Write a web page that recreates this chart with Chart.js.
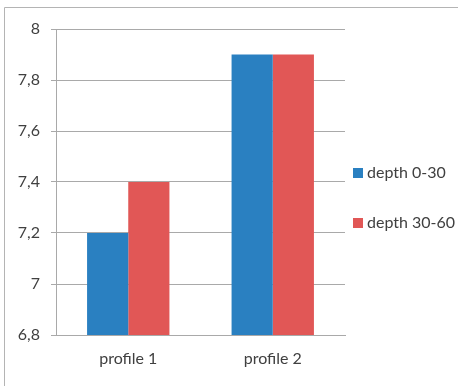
<!DOCTYPE html>
<html>
<head>
<meta charset="utf-8">
<script src="https://cdn.jsdelivr.net/npm/chart.js@4"></script>
<style>
  html, body { margin: 0; padding: 0; background: #ffffff; }
  #wrap { position: relative; width: 458px; height: 386px; }
</style>
</head>
<body>
<div id="wrap"><canvas id="chart" width="458" height="386"></canvas></div>
<script>
// Soil pH by profile and sampling depth
const categories = ['profile 1', 'profile 2'];
const seriesNames = ['depth 0-30', 'depth 30-60'];
const depth0to30 = [7.2, 7.9];
const depth30to60 = [7.4, 7.9];
const yTicks = [6.8, 7.0, 7.2, 7.4, 7.6, 7.8, 8.0];

const seriesColors = ['#2a80c1', '#e15756'];
const textColor = '#404040';
const gridColor = '#a9a9a9';
const fontFamily = 'Lato, "Open Sans", sans-serif';

// Thin frame along the top and left edges of the page
const framePlugin = {
  id: 'frame',
  beforeDraw(chart) {
    const ctx = chart.ctx;
    ctx.save();
    ctx.strokeStyle = '#b4b4b4';
    ctx.lineWidth = 1;
    ctx.beginPath();
    ctx.moveTo(4.5, chart.height);
    ctx.lineTo(4.5, 7.5);
    ctx.lineTo(chart.width, 7.5);
    ctx.stroke();
    ctx.restore();
  }
};

// Legend to the right of the plot, drawn from the dataset labels and colours
const sideLegend = {
  id: 'sideLegend',
  afterDraw(chart) {
    const ctx = chart.ctx;
    const area = chart.chartArea;
    const x = area.right + 8;
    const firstY = 173;
    const step = 50;
    ctx.save();
    ctx.font = '16px ' + fontFamily;
    ctx.textBaseline = 'middle';
    ctx.textAlign = 'left';
    chart.data.datasets.forEach((ds, i) => {
      const cy = firstY + i * step;
      ctx.fillStyle = ds.backgroundColor;
      ctx.fillRect(x, cy - 5, 10, 10);
      ctx.fillStyle = textColor;
      ctx.fillText(ds.label, x + 14, cy);
    });
    ctx.restore();
  }
};

new Chart(document.getElementById('chart'), {
  type: 'bar',
  data: {
    labels: categories,
    datasets: [
      { label: seriesNames[0], data: depth0to30, backgroundColor: seriesColors[0] },
      { label: seriesNames[1], data: depth30to60, backgroundColor: seriesColors[1] }
    ]
  },
  options: {
    responsive: false,
    animation: false,
    devicePixelRatio: 1,
    layout: { padding: { top: 29, right: 113, bottom: 0, left: 0 } },
    datasets: {
      bar: { categoryPercentage: 0.57, barPercentage: 1.0, borderWidth: 0 }
    },
    plugins: {
      legend: { display: false },
      tooltip: { enabled: false },
      title: { display: false }
    },
    scales: {
      x: {
        grid: { display: false, drawTicks: false },
        border: { display: true, color: gridColor, width: 1 },
        ticks: {
          color: textColor,
          font: { family: fontFamily, size: 16 },
          padding: 14
        },
        afterFit(scale) { scale.height = 51; }
      },
      y: {
        min: 6.8,
        max: 8.0,
        afterBuildTicks(scale) {
          scale.ticks = yTicks.map(v => ({ value: v }));
        },
        grid: {
          color: gridColor,
          lineWidth: 1,
          drawTicks: true,
          tickLength: 5
        },
        border: { display: true, color: gridColor, width: 1 },
        ticks: {
          color: textColor,
          font: { family: fontFamily, size: 16 },
          padding: 11,
          callback(value) { return String(Math.round(value * 10) / 10).replace('.', ','); }
        },
        afterFit(scale) { scale.width = 56; }
      }
    }
  },
  plugins: [framePlugin, sideLegend]
});
</script>
</body>
</html>
